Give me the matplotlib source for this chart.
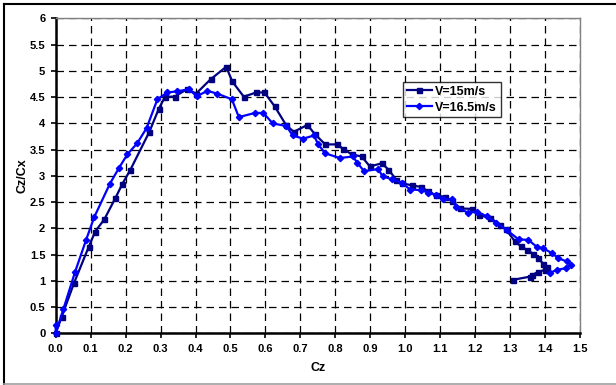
import matplotlib
matplotlib.use("Agg")
import matplotlib.pyplot as plt
from matplotlib.lines import Line2D

# ------------ Data ------------
# lift coefficient Cz vs. lift/drag ratio Cz/Cx, two wind speeds
cz_15 = [0.0, 0.017, 0.052, 0.094, 0.113, 0.139, 0.171, 0.191, 0.214, 0.268,
         0.295, 0.313, 0.340, 0.375, 0.402, 0.443, 0.488, 0.505, 0.538, 0.574,
         0.597, 0.626, 0.659, 0.681, 0.720, 0.741, 0.771, 0.806, 0.821, 0.847,
         0.875, 0.899, 0.933, 0.952, 0.974, 0.990, 1.019, 1.045, 1.065, 1.088,
         1.113, 1.133, 1.157, 1.192, 1.212, 1.243, 1.271, 1.288, 1.314, 1.331,
         1.348, 1.365, 1.381, 1.395, 1.405, 1.400, 1.381, 1.362, 1.357, 1.309]
ratio_15 = [0.0, 0.31, 0.95, 1.64, 1.94, 2.17, 2.58, 2.85, 3.12, 3.84,
            4.28, 4.51, 4.51, 4.65, 4.57, 4.84, 5.08, 4.80, 4.51, 4.59,
            4.59, 4.33, 3.97, 3.84, 3.97, 3.80, 3.60, 3.60, 3.52, 3.41,
            3.37, 3.18, 3.24, 3.12, 2.93, 2.86, 2.82, 2.79, 2.71, 2.63,
            2.60, 2.53, 2.38, 2.37, 2.25, 2.20, 2.07, 1.98, 1.75, 1.66,
            1.59, 1.52, 1.43, 1.32, 1.27, 1.21, 1.17, 1.11, 1.08, 1.02]

cz_165 = [0.0, 0.0, 0.022, 0.055, 0.087, 0.110, 0.155, 0.181, 0.205, 0.233,
          0.260, 0.291, 0.319, 0.346, 0.380, 0.404, 0.434, 0.461, 0.504, 0.524,
          0.570, 0.594, 0.621, 0.660, 0.678, 0.708, 0.739, 0.751, 0.771, 0.813,
          0.850, 0.863, 0.882, 0.923, 0.935, 0.961, 0.990, 1.014, 1.045, 1.066,
          1.087, 1.108, 1.133, 1.145, 1.179, 1.204, 1.233, 1.261, 1.292, 1.324,
          1.352, 1.376, 1.395, 1.419, 1.438, 1.462, 1.474, 1.459, 1.434, 1.414]
ratio_165 = [0.15, 0.0, 0.46, 1.16, 1.78, 2.21, 2.85, 3.15, 3.41, 3.62,
             3.91, 4.46, 4.59, 4.61, 4.65, 4.52, 4.62, 4.57, 4.46, 4.12,
             4.20, 4.20, 4.00, 3.95, 3.77, 3.71, 3.77, 3.60, 3.43, 3.34,
             3.37, 3.25, 3.09, 3.13, 2.99, 2.94, 2.87, 2.74, 2.73, 2.68,
             2.64, 2.55, 2.56, 2.41, 2.30, 2.32, 2.23, 2.10, 1.96, 1.79,
             1.78, 1.65, 1.62, 1.53, 1.43, 1.37, 1.31, 1.24, 1.21, 1.15]

x_ticks = [round(0.1 * i, 1) for i in range(16)]
y_ticks = [0.5 * i for i in range(13)]

NAVY = "#000080"
BLUE = "#0000FF"

# --------- Plot ----------
plt.rcParams["font.family"] = ["Liberation Sans", "DejaVu Sans"]

fig = plt.figure(figsize=(6.16, 3.85), dpi=100)
ax = fig.add_axes([0.0904, 0.1343, 0.8512, 0.8177])

ax.plot(cz_15, ratio_15, color=NAVY, lw=1.6, marker="s", ms=3.6,
        mfc=NAVY, mec=NAVY, label="V=15m/s", zorder=3, clip_on=False)
ax.plot(cz_165, ratio_165, color=BLUE, lw=1.6, marker="D", ms=3.2,
        mfc=BLUE, mec=BLUE, label="V=16.5m/s", zorder=4, clip_on=False)

ax.set_xlim(0, 1.5)
ax.set_ylim(0, 6)
ax.set_xticks(x_ticks)
ax.set_xticklabels([f"{v:.1f}" for v in x_ticks], fontweight="bold")
ax.set_yticks(y_ticks)
ax.set_yticklabels([f"{v:g}" for v in y_ticks], fontweight="bold")
ax.tick_params(axis="both", labelsize=8, length=3.5, width=1.2,
               direction="out", color="black", pad=4)

ax.grid(True, color="black", linestyle=(0, (6, 4)), linewidth=0.9)
ax.set_axisbelow(True)

for side in ("top", "right"):
    ax.spines[side].set_color("#808080")
    ax.spines[side].set_linewidth(1.0)
for side in ("left", "bottom"):
    ax.spines[side].set_color("black")
    ax.spines[side].set_linewidth(1.8)

ax.set_xlabel("Cz", fontsize=9, fontweight="bold", labelpad=6)
ax.set_ylabel("Cz/Cx", fontsize=9, fontweight="bold", labelpad=1)

leg = ax.legend(loc="upper left", bbox_to_anchor=(0.662, 0.798),
                prop={"size": 9, "weight": "bold"},
                frameon=True, fancybox=False, shadow=False,
                borderpad=0.3, handlelength=2.0, handletextpad=0.3,
                labelspacing=0.3, borderaxespad=0)
leg.get_frame().set_edgecolor("black")
leg.get_frame().set_linewidth(1.0)

# chart area frame
fig.add_artist(Line2D([4 / 616, 4 / 616], [1 / 385, 381 / 385],
                      transform=fig.transFigure, color="black", lw=1.5))
fig.add_artist(Line2D([4 / 616, 1.0], [381 / 385, 381 / 385],
                      transform=fig.transFigure, color="black", lw=1.5))
fig.add_artist(Line2D([4 / 616, 1.0], [1.5 / 385, 1.5 / 385],
                      transform=fig.transFigure, color="#a0a0a0", lw=1.2))

fig.savefig("out.png", dpi=100)
